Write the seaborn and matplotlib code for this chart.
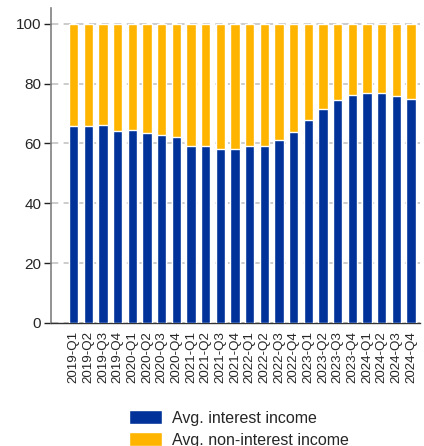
import numpy as np
import pandas as pd
import matplotlib
matplotlib.use("Agg")
import matplotlib.pyplot as plt
import seaborn as sns
from matplotlib.patches import Patch

# quarters and average income shares (%)
quarters = [f"{y}-Q{q}" for y in range(2019, 2025) for q in range(1, 5)]
interest = [66.0, 66.0, 66.3, 64.1, 64.4, 63.4, 63.0, 62.3, 59.3, 59.0, 58.2, 58.3,
            59.0, 59.3, 61.3, 64.0, 68.0, 71.7, 74.7, 76.3, 77.0, 77.0, 75.8, 75.0]
non_interest = [100 - v for v in interest]

blue = "#003299"
yellow = "#FFB400"

df = pd.DataFrame({"quarter": quarters, "interest": interest, "non_interest": non_interest})
df["total"] = df["interest"] + df["non_interest"]

sns.set_style("white")
plt.rcParams["font.family"] = ["Liberation Sans", "DejaVu Sans"]

fig = plt.figure(figsize=(4.24, 4.46), dpi=100)
ax = fig.add_axes([0.12, 0.276, 0.87, 0.706])

# stacked bars: full height in yellow, interest part on top in blue
sns.barplot(data=df, x="quarter", y="total", color=yellow, width=0.65,
            saturation=1, ax=ax, zorder=2)
sns.barplot(data=df, x="quarter", y="interest", color=blue, width=0.65,
            saturation=1, ax=ax, zorder=3)

ax.set_ylim(0, 105.3)
ax.set_xlim(-1.55, 23.6)
ax.set_yticks([0, 20, 40, 60, 80, 100])
ax.yaxis.grid(True, linestyle=(0, (4, 3)), color="#c8c8c8", linewidth=1.3, zorder=0)
ax.set_axisbelow(True)
ax.set_xlabel("")
ax.set_ylabel("")

for s in ["top", "right"]:
    ax.spines[s].set_visible(False)
ax.spines["left"].set_color("#808080")
ax.spines["left"].set_linewidth(1.2)
ax.spines["bottom"].set_color("#333333")
ax.spines["bottom"].set_linewidth(1.0)

ax.tick_params(axis="y", length=5, width=1, color="#222222", labelsize=11, left=True, pad=2)
ax.tick_params(axis="x", length=0, labelsize=9.6, pad=6)
plt.setp(ax.get_xticklabels(), rotation=90)

handles = [Patch(facecolor=blue, label="Avg. interest income"),
           Patch(facecolor=yellow, label="Avg. non-interest income")]
fig.legend(handles=handles, loc="upper left", bbox_to_anchor=(0.29, 0.935 - 0.0),
           bbox_transform=fig.transFigure, frameon=False, fontsize=11.5,
           handlelength=2.05, handleheight=0.95, labelspacing=0.4, handletextpad=0.6,
           borderaxespad=0)
# place legend below axes
fig.legends[0].set_bbox_to_anchor((0.29, 1 - 404 / 446), transform=fig.transFigure)

fig.savefig("out.png", dpi=100)
